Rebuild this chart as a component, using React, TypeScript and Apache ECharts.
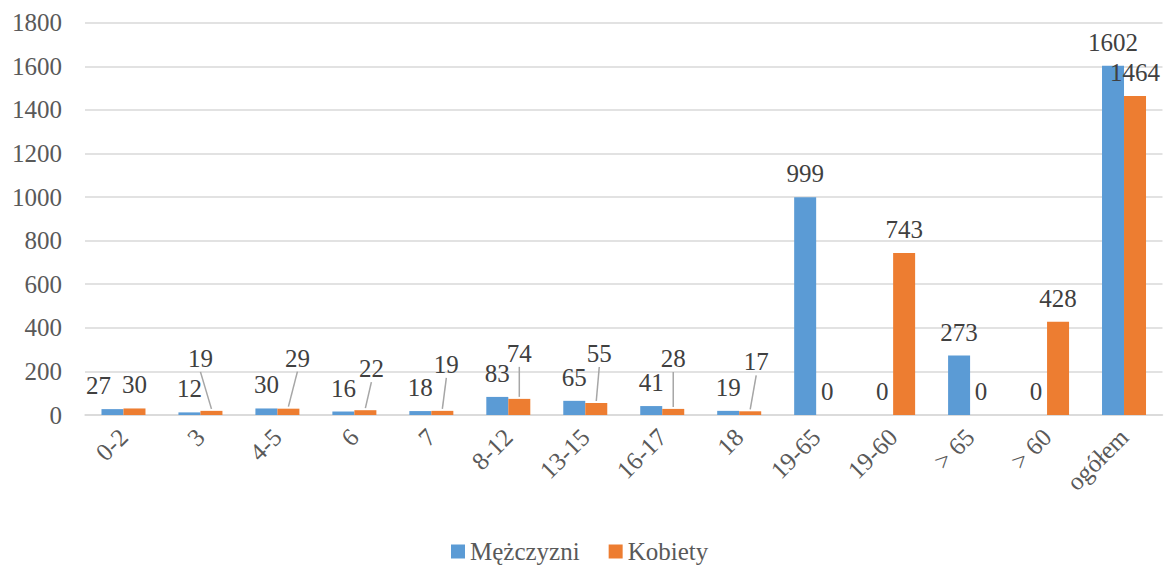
import React, { useEffect, useRef } from "react";
import * as echarts from "echarts";

const categories = ["0-2", "3", "4-5", "6", "7", "8-12", "13-15", "16-17", "18", "19-65", "19-60", "> 65", "> 60", "ogółem"];
const men = [27, 12, 30, 16, 18, 83, 65, 41, 19, 999, 0, 273, 0, 1602];
const women = [30, 19, 29, 22, 19, 74, 55, 28, 17, 0, 743, 0, 428, 1464];
const yTicks = { min: 0, max: 1800, interval: 200 };

// label displacement (moved labels, as in the reference)
const menLabelShift: Record<number, [number, number]> = { 0: [-14, 0] };
const womenLabelShift: Record<number, [number, number]> = {
  1: [-11, -29],
  2: [9, -27],
  3: [6, -18],
  4: [4, -23],
  5: [0, -22],
  6: [3, -26],
  7: [0, -27],
  8: [6, -26],
};

const FONT = "Liberation Serif";
const FS = 25;
const BAR_W = 22;

export default function App() {
  const ref = useRef<HTMLDivElement>(null);
  useEffect(() => {
    if (!ref.current) return;
    const chart = echarts.init(ref.current, undefined, { renderer: "svg" });
    const mkLayout = (shifts: Record<number, [number, number]>) => (p: any) => {
      const s = shifts[p.dataIndex];
      if (!s) return {};
      return { dx: s[0], dy: s[1] };
    };
    const labelCfg = {
      show: true,
      position: "top" as const,
      distance: 11,
      fontFamily: FONT,
      fontSize: FS,
      color: "#404040",
    };
    const leaderData = Object.keys(womenLabelShift).map((k) => {
      const i = Number(k);
      return [i, women[i], womenLabelShift[i][0], womenLabelShift[i][1]];
    });
    chart.setOption({
      animation: false,
      grid: { left: 85, right: 5.5, top: 22.7, bottom: 150, containLabel: false },
      legend: {
        data: ["Mężczyzni", "Kobiety"],
        left: 446,
        top: 534,
        itemWidth: 14,
        itemHeight: 14,
        itemGap: 29,
        icon: "rect",
        textStyle: { fontFamily: FONT, fontSize: FS, color: "#595959" },
      },
      xAxis: {
        type: "category",
        data: categories,
        axisLine: { lineStyle: { color: "#d9d9d9", width: 1.5 } },
        axisTick: { show: false },
        axisLabel: { rotate: 45, margin: 18, fontFamily: FONT, fontSize: FS, color: "#595959", interval: 0 },
      },
      yAxis: {
        type: "value",
        min: yTicks.min,
        max: yTicks.max,
        interval: yTicks.interval,
        axisLine: { show: false },
        axisTick: { show: false },
        splitLine: { lineStyle: { color: "#d9d9d9", width: 1.5 } },
        axisLabel: {
          margin: 23,
          fontFamily: FONT,
          fontSize: FS,
          color: "#595959",
          formatter: (v: number) => String(v),
        },
      },
      series: [
        {
          name: "Mężczyzni",
          type: "bar",
          barWidth: BAR_W,
          barGap: "0%",
          itemStyle: { color: "#5B9BD5" },
          data: men,
          label: labelCfg,
          labelLayout: mkLayout(menLabelShift),
        },
        {
          name: "Kobiety",
          type: "bar",
          barWidth: BAR_W,
          barGap: "0%",
          itemStyle: { color: "#ED7D31" },
          data: women,
          label: labelCfg,
          labelLayout: mkLayout(womenLabelShift),
        },
        {
          name: "leaders",
          type: "custom",
          silent: true,
          z: 5,
          data: leaderData,
          renderItem: (params: any, api: any) => {
            const i = api.value(0);
            const v = api.value(1);
            const dx = api.value(2);
            const dy = api.value(3);
            const p = api.coord([i, v]);
            const barX = p[0] + BAR_W / 2;
            const barTop = p[1];
            const lx = barX + dx;
            const ly = barTop - 25 + dy + 15;
            return {
              type: "line",
              shape: { x1: lx, y1: ly, x2: barX, y2: barTop - 2 },
              style: { stroke: "#a6a6a6", lineWidth: 1.5 },
            };
          },
        },
      ],
    });
    return () => chart.dispose();
  }, []);
  return (
    <div
      ref={ref}
      style={{ position: "absolute", left: 0, top: 0, width: 1168, height: 565, background: "#fff" }}
    />
  );
}
